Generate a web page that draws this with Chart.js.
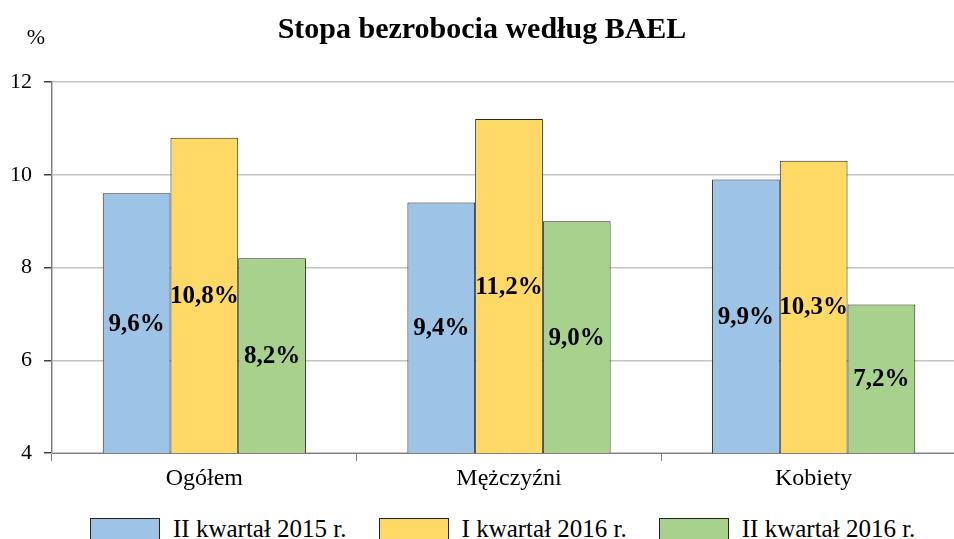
<!DOCTYPE html>
<html>
<head>
<meta charset="utf-8">
<script src="https://cdn.jsdelivr.net/npm/chart.js@4.4.1/dist/chart.umd.min.js"></script>
<style>
    html, body { margin: 0; padding: 0; background: #fff; overflow: hidden; width: 954px; height: 539px; }
    #wrap { position: relative; width: 966px; height: 500px; }
    #legend { position: absolute; left: 90px; top: 516px; display: flex; align-items: flex-start;
        font-family: "Liberation Serif", "Times New Roman", serif; font-size: 25px; line-height: 25px; white-space: nowrap; }
    .legend-item { display: flex; align-items: flex-start; margin-right: 32px; }
    .legend-box { width: 68px; height: 22px; border: 1px solid #222; margin-right: 13px; margin-top: 2px; }
</style>
</head>
<body>
<div id="wrap"><canvas id="chart" width="966" height="500"></canvas></div>
<div id="legend"></div>
<script>
// Data
const categories = ['Ogółem', 'Mężczyźni', 'Kobiety'];
const seriesNames = ['II kwartał 2015 r.', 'I kwartał 2016 r.', 'II kwartał 2016 r.'];
const q2of2015 = [9.6, 9.4, 9.9];
const q1of2016 = [10.8, 11.2, 10.3];
const q2of2016 = [8.2, 9.0, 7.2];
const seriesColors = ['#9DC3E6', '#FFD966', '#A9D18E'];

const serif = '"Liberation Serif", "Times New Roman", serif';

// Title, unit label and value labels in the middle of each visible bar
const textPlugin = {
    id: 'textPlugin',
    afterDraw(chart) {
        const ctx = chart.ctx;
        ctx.save();
        ctx.fillStyle = '#000';
        ctx.textAlign = 'center';
        ctx.textBaseline = 'alphabetic';
        ctx.font = 'bold 30px ' + serif;
        ctx.fillText('Stopa bezrobocia według BAEL', 482, 38);
        ctx.font = '22px ' + serif;
        ctx.fillText('%', 36, 44);

        const bottom = chart.chartArea.bottom;
        ctx.font = 'bold 25px ' + serif;
        ctx.textBaseline = 'middle';
        chart.data.datasets.forEach((ds, i) => {
            chart.getDatasetMeta(i).data.forEach((bar, j) => {
                const label = ds.data[j].toFixed(1).replace('.', ',') + '%';
                ctx.fillText(label, bar.x, (bar.y + bottom) / 2 + 1);
            });
        });
        ctx.restore();
    }
};

const ctx = document.getElementById('chart').getContext('2d');
const chart = new Chart(ctx, {
    type: 'bar',
    data: {
        labels: categories,
        datasets: [q2of2015, q1of2016, q2of2016].map((values, i) => ({
            label: seriesNames[i],
            data: values,
            backgroundColor: seriesColors[i],
            borderColor: '#262626',
            borderWidth: 1,
            borderSkipped: false,
            barPercentage: 1,
            categoryPercentage: 0.667
        }))
    },
    options: {
        responsive: false,
        animation: false,
        layout: { padding: { top: 82, left: 0, right: 0, bottom: 0 } },
        plugins: {
            legend: { display: false },
            title: { display: false },
            tooltip: { enabled: false }
        },
        scales: {
            x: {
                afterFit(scale) { scale.height = 47; },
                grid: {
                    display: true,
                    drawOnChartArea: false,
                    drawTicks: true,
                    tickLength: 8,
                    color: '#808080',
                    offset: true
                },
                border: { color: '#808080', width: 1 },
                ticks: { color: '#000', padding: 3, font: { family: serif, size: 24 } }
            },
            y: {
                min: 4,
                max: 12,
                afterFit(scale) { scale.width = 52; },
                grid: {
                    color: '#c4c4c4',
                    lineWidth: 1.5,
                    tickColor: '#404040',
                    tickLength: 8,
                    drawTicks: true
                },
                border: { color: '#808080', width: 1.5 },
                ticks: { stepSize: 2, color: '#000', padding: 12, font: { family: serif, size: 22 } }
            }
        }
    },
    plugins: [textPlugin]
});

// Legend built from the series arrays
const legend = document.getElementById('legend');
seriesNames.forEach((name, i) => {
    const item = document.createElement('div');
    item.className = 'legend-item';
    const box = document.createElement('div');
    box.className = 'legend-box';
    box.style.background = seriesColors[i];
    const text = document.createElement('span');
    text.innerText = name;
    item.appendChild(box);
    item.appendChild(text);
    legend.appendChild(item);
});
</script>
</body>
</html>
